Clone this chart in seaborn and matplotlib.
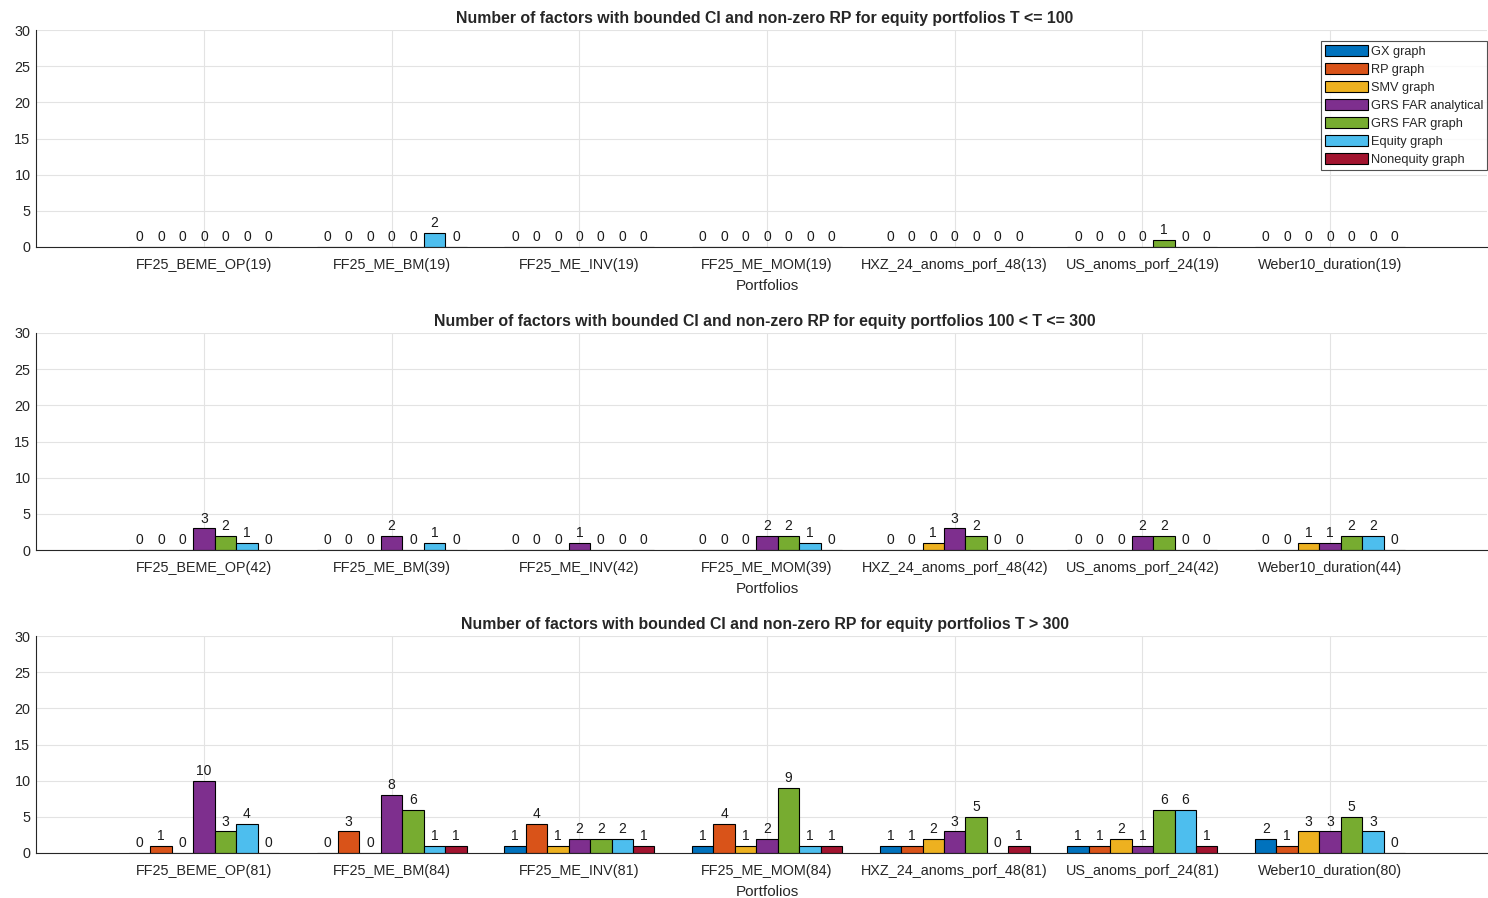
import numpy as np
import pandas as pd
import matplotlib
matplotlib.use("Agg")
import matplotlib.pyplot as plt
import seaborn as sns

# portfolio groups (names without the T count)
portfolios = ["FF25_BEME_OP", "FF25_ME_BM", "FF25_ME_INV", "FF25_ME_MOM",
              "HXZ_24_anoms_porf_48", "US_anoms_porf_24", "Weber10_duration"]
methods = ["GX graph", "RP graph", "SMV graph", "GRS FAR analytical",
           "GRS FAR graph", "Equity graph", "Nonequity graph"]
colors = ["#0072BD", "#D95319", "#EDB120", "#7E2F8E", "#77AC30", "#4DBEEE", "#A2142F"]

# number of periods per portfolio in each sample
obs_short = [19, 19, 19, 19, 13, 19, 19]
obs_mid = [42, 39, 42, 39, 42, 42, 44]
obs_long = [81, 84, 81, 84, 81, 81, 80]

# counts per portfolio, one value per method
counts_short = [
    [0, 0, 0, 0, 0, 0, 0],
    [0, 0, 0, 0, 0, 2, 0],
    [0, 0, 0, 0, 0, 0, 0],
    [0, 0, 0, 0, 0, 0, 0],
    [0, 0, 0, 0, 0, 0, 0],
    [0, 0, 0, 0, 1, 0, 0],
    [0, 0, 0, 0, 0, 0, 0],
]
counts_mid = [
    [0, 0, 0, 3, 2, 1, 0],
    [0, 0, 0, 2, 0, 1, 0],
    [0, 0, 0, 1, 0, 0, 0],
    [0, 0, 0, 2, 2, 1, 0],
    [0, 0, 1, 3, 2, 0, 0],
    [0, 0, 0, 2, 2, 0, 0],
    [0, 0, 1, 1, 2, 2, 0],
]
counts_long = [
    [0, 1, 0, 10, 3, 4, 0],
    [0, 3, 0, 8, 6, 1, 1],
    [1, 4, 1, 2, 2, 2, 1],
    [1, 4, 1, 2, 9, 1, 1],
    [1, 1, 2, 3, 5, 0, 1],
    [1, 1, 2, 1, 6, 6, 1],
    [2, 1, 3, 3, 5, 3, 0],
]

panels = [
    ("Number of factors with bounded CI and non-zero RP for equity portfolios T <= 100", obs_short, counts_short),
    ("Number of factors with bounded CI and non-zero RP for equity portfolios 100 < T <= 300", obs_mid, counts_mid),
    ("Number of factors with bounded CI and non-zero RP for equity portfolios T > 300", obs_long, counts_long),
]

sns.set_style("white")
plt.rcParams["font.family"] = ["Liberation Sans", "DejaVu Sans"]
plt.rcParams["axes.edgecolor"] = "#262626"

fig = plt.figure(figsize=(14.88, 8.98), dpi=100)
tops = [30, 333, 636]
ax_h = 217

for i, (title, obs, counts) in enumerate(panels):
    ax = fig.add_axes([36 / 1488, 1 - (tops[i] + ax_h) / 898, 1451 / 1488, ax_h / 898])
    labels = [f"{p}({n})" for p, n in zip(portfolios, obs)]
    rows = []
    for lab, vals in zip(labels, counts):
        for m, v in zip(methods, vals):
            rows.append({"Portfolio": lab, "Method": m, "Count": v})
    df = pd.DataFrame(rows)
    sns.barplot(data=df, x="Portfolio", y="Count", hue="Method", order=labels,
                hue_order=methods, palette=colors, width=0.8, edgecolor="black",
                linewidth=0.8, saturation=1, errorbar=None, ax=ax, legend=(i == 0))
    for cont in ax.containers:
        ax.bar_label(cont, fmt="%d", padding=2, fontsize=10, color="#1a1a1a")
    ax.set_ylim(0, 30)
    ax.set_yticks(range(0, 31, 5))
    ax.set_xlim(-0.895, 6.836)
    # light grid behind the bars, ticks stay on top
    ax.grid(False)
    ax.set_axisbelow(False)
    for yv in ax.get_yticks():
        ax.axhline(yv, color="#e3e3e3", linewidth=0.8, zorder=0)
    for xv in ax.get_xticks():
        ax.axvline(xv, color="#e3e3e3", linewidth=0.8, zorder=0)
    ax.tick_params(direction="in", length=7, width=0.8, labelsize=10.4, colors="#262626", pad=8)
    ax.tick_params(axis="y", pad=4, labelsize=10.4)
    ax.spines["top"].set_visible(False)
    ax.spines["right"].set_visible(False)
    ax.set_title(title, fontsize=11.4, fontweight="bold", pad=5, x=0.5024)
    ax.set_xlabel("Portfolios", fontsize=11, color="#262626", labelpad=5)
    ax.xaxis.label.set_x(0.5038)
    ax.set_ylabel("")
    if i == 0:
        leg = ax.legend(loc="upper right", bbox_to_anchor=(1.0, 0.949), fontsize=9.2,
                        frameon=True, fancybox=False, edgecolor="#262626",
                        handlelength=3.4, handleheight=1.0, handletextpad=0.2,
                        labelspacing=0.38, borderpad=0.3, borderaxespad=0.0)
        leg.get_frame().set_linewidth(0.8)
        leg.set_zorder(5)

fig.savefig("out.png", dpi=100)
